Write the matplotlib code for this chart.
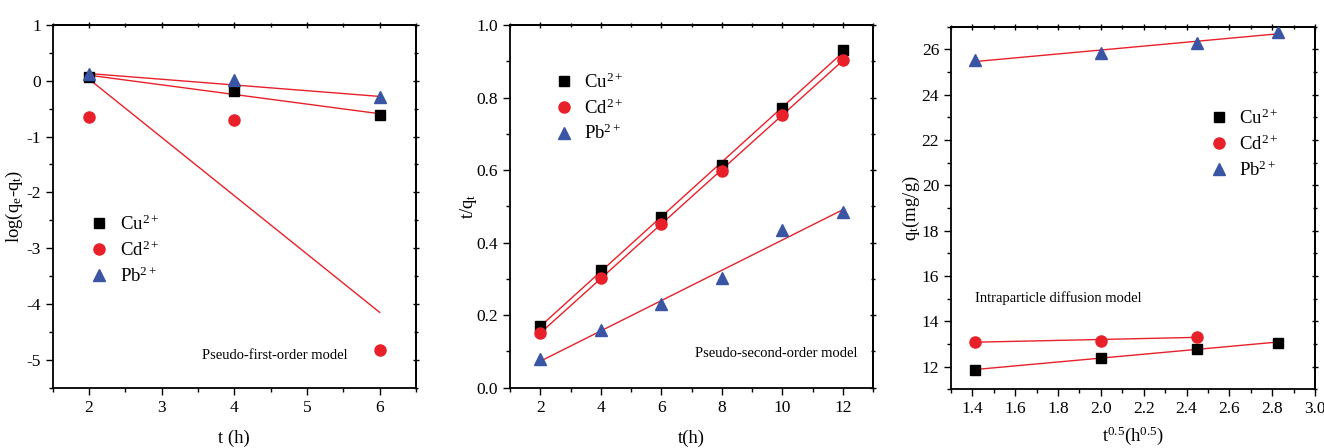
import numpy as np
import matplotlib
matplotlib.use("Agg")
import matplotlib.pyplot as plt
from matplotlib.ticker import MultipleLocator

plt.rcParams['font.family'] = ['Liberation Serif', 'DejaVu Serif']
plt.rcParams['mathtext.fontset'] = 'custom'
plt.rcParams['mathtext.rm'] = 'Liberation Serif'
plt.rcParams['mathtext.it'] = 'Liberation Serif'
plt.rcParams['axes.unicode_minus'] = False

# ---------- Panel 1: pseudo-first-order ----------
t1 = [2, 4, 6]
cu1 = [0.07, -0.18, -0.62]
cd1 = [-0.65, -0.70, -4.83]
pb1 = [0.12, 0.01, -0.29]
# fitted line values at t = 2 and 6 (as drawn)
fit1_t = [2, 6]
fit1_cu = [0.10, -0.59]
fit1_cd = [0.03, -4.15]
fit1_pb = [0.13, -0.28]

# ---------- Panel 2: pseudo-second-order ----------
t2 = [2, 4, 6, 8, 10, 12]
cu2 = [0.170, 0.325, 0.470, 0.615, 0.770, 0.932]
cd2 = [0.152, 0.302, 0.450, 0.598, 0.753, 0.904]
pb2 = [0.080, 0.158, 0.232, 0.302, 0.435, 0.485]

# ---------- Panel 3: intraparticle diffusion ----------
t3 = [1.414, 2.0, 2.449, 2.828]
cu3 = [11.85, 12.40, 12.80, 13.05]
cd3 = [13.10, 13.15, 13.32]
pb3 = [25.55, 25.85, 26.30, 26.78]

labels = ['Cu$^{2+}$', 'Cd$^{2+}$', 'Pb$^{2+}$']
c_cu, c_cd, c_pb = 'black', '#e8202a', '#3b55a5'
line_c = '#e8202a'
ms = 7

fig = plt.figure(figsize=(13.24, 4.48), dpi=100)
W, H = 1324, 448
def add_ax(l, r, t, b):
    return fig.add_axes([l / W, 1 - b / H, (r - l) / W, (b - t) / H])

ax1 = add_ax(52.7, 416, 25, 387.7)
ax2 = add_ax(510, 873.3, 25, 387.7)
ax3 = add_ax(951, 1315, 26.7, 389.3)

def style(ax, xmaj, xmin, ymaj, ymin):
    ax.xaxis.set_major_locator(MultipleLocator(xmaj))
    ax.xaxis.set_minor_locator(MultipleLocator(xmin))
    ax.yaxis.set_major_locator(MultipleLocator(ymaj))
    ax.yaxis.set_minor_locator(MultipleLocator(ymin))
    ax.tick_params(which='major', direction='out', length=5, width=1, labelsize=12.5)
    ax.tick_params(which='minor', direction='out', length=3, width=1)
    for s in ax.spines.values():
        s.set_linewidth(1.3)
    sx = ax.secondary_xaxis('top')
    sx.xaxis.set_major_locator(MultipleLocator(xmaj))
    sx.xaxis.set_minor_locator(MultipleLocator(xmin))
    sx.tick_params(which='major', direction='inout', length=5, width=1, labelsize=0, labeltop=False)
    sx.tick_params(which='minor', direction='inout', length=3, width=1)
    sx.spines['top'].set_linewidth(1.3)
    sy = ax.secondary_yaxis('right')
    sy.yaxis.set_major_locator(MultipleLocator(ymaj))
    sy.yaxis.set_minor_locator(MultipleLocator(ymin))
    sy.tick_params(which='major', direction='inout', length=5, width=1, labelsize=0, labelright=False)
    sy.tick_params(which='minor', direction='inout', length=3, width=1)
    sy.spines['right'].set_linewidth(1.3)

def scatter3(ax, x_cu, y_cu, x_cd, y_cd, x_pb, y_pb):
    h1, = ax.plot(x_cu, y_cu, 's', color=c_cu, ms=ms, label=labels[0], zorder=3)
    h2, = ax.plot(x_cd, y_cd, 'o', color=c_cd, ms=ms + 1, label=labels[1], zorder=3)
    h3, = ax.plot(x_pb, y_pb, '^', color=c_pb, ms=ms + 1, label=labels[2], zorder=3)
    return [h1, h2, h3]

leg_kw = dict(loc='upper left', frameon=False, fontsize=13.5, handletextpad=0.5,
              labelspacing=0.35, handlelength=1.2, borderpad=0, borderaxespad=0)
ann_fs = 10.5

# Panel 1
ax1.plot(fit1_t, fit1_cu, '-', color=line_c, lw=1)
ax1.plot(fit1_t, fit1_cd, '-', color=line_c, lw=1)
ax1.plot(fit1_t, fit1_pb, '-', color=line_c, lw=1)
hs = scatter3(ax1, t1, cu1, t1, cd1, t1, pb1)
ax1.set_xlim(1.5, 6.5)
ax1.set_ylim(-5.5, 1)
style(ax1, 1, 0.5, 1, 0.5)
ax1.set_xlabel('t (h)', fontsize=13.5, labelpad=10)
ax1.set_ylabel('log(q$_e$-q$_t$)', fontsize=13.5)
ax1.yaxis.set_label_coords(-0.075, 0.5)
ax1.legend(handles=hs, bbox_to_anchor=(0.097, 0.478), **leg_kw)
ax1.text(0.41, 0.08, 'Pseudo-first-order model', transform=ax1.transAxes, fontsize=ann_fs)

# Panel 2
for y in (cu2, cd2, pb2):
    p = np.polyfit(t2, y, 1)
    xx = np.array([t2[0], t2[-1]])
    ax2.plot(xx, np.polyval(p, xx), '-', color=line_c, lw=1)
hs = scatter3(ax2, t2, cu2, t2, cd2, t2, pb2)
ax2.set_xlim(1, 13)
ax2.set_ylim(0, 1.0)
style(ax2, 2, 1, 0.2, 0.1)
ax2.yaxis.set_major_formatter(plt.FormatStrFormatter('%.1f'))
ax2.set_xlabel('t(h)', fontsize=13.5, labelpad=10)
ax2.set_ylabel('t/q$_t$', fontsize=13.5)
ax2.yaxis.set_label_coords(-0.085, 0.5)
ax2.legend(handles=hs, bbox_to_anchor=(0.117, 0.87), **leg_kw)
ax2.text(0.51, 0.085, 'Pseudo-second-order model', transform=ax2.transAxes, fontsize=ann_fs)

# Panel 3
for x, y in ((t3, cu3), (t3[:3], cd3), (t3, pb3)):
    p = np.polyfit(x, y, 1)
    xx = np.array([x[0], x[-1]])
    ax3.plot(xx, np.polyval(p, xx), '-', color=line_c, lw=1)
hs = scatter3(ax3, t3, cu3, t3[:3], cd3, t3, pb3)
ax3.set_xlim(1.3, 3.0)
ax3.set_ylim(11, 27)
style(ax3, 0.2, 0.1, 2, 1)
ax3.xaxis.set_major_formatter(plt.FormatStrFormatter('%.1f'))
ax3.set_xlabel('t$^{0.5}$(h$^{0.5}$)', fontsize=13.5, labelpad=5)
ax3.set_ylabel('q$_t$(mg/g)', fontsize=13.5)
ax3.yaxis.set_label_coords(-0.08, 0.5)
ax3.legend(handles=hs, bbox_to_anchor=(0.705, 0.775), **leg_kw)
ax3.text(0.065, 0.24, 'Intraparticle diffusion model', transform=ax3.transAxes, fontsize=ann_fs)

fig.savefig('out.png', dpi=100)
